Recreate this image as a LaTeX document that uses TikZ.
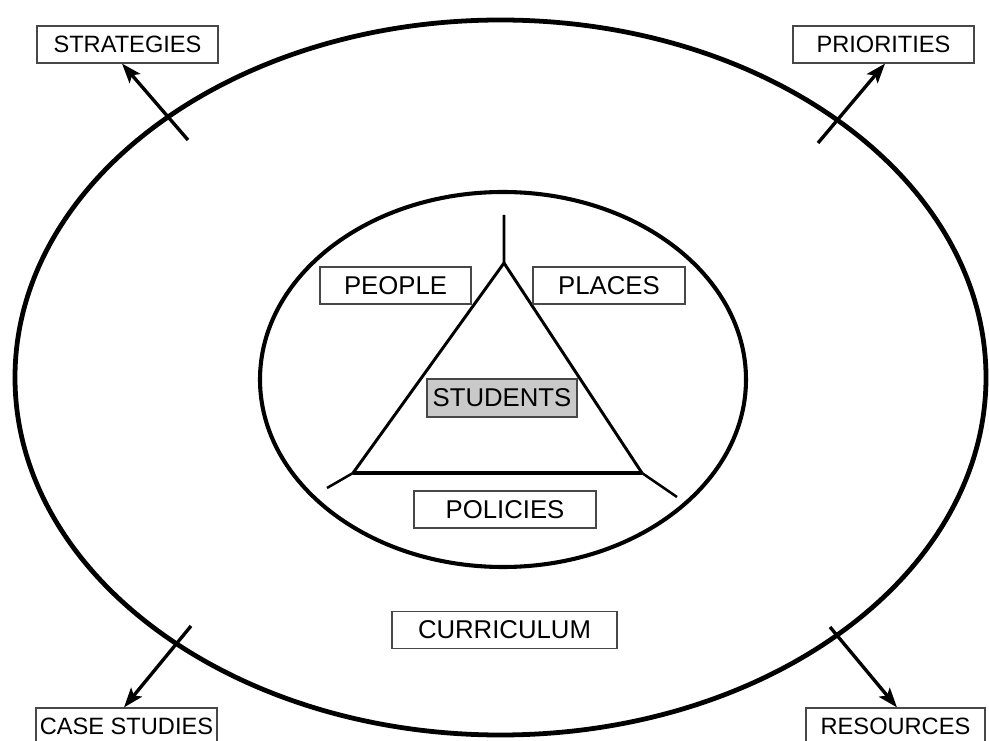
\documentclass[tikz,border=0pt]{standalone}
\usepackage{fontspec}
\setmainfont{Liberation Sans}
\usetikzlibrary{arrows.meta,calc}
\tikzset{
  label box/.style  = {draw=black!72, line width=0.8pt, inner sep=0pt,
                       minimum height=0.925cm, text=black},
  outer box/.style  = {label box, font=\fontsize{16.8}{20}\selectfont},
  inner box/.style  = {label box, font=\fontsize{18.3}{22}\selectfont},
  ring/.style       = {line width=3.4pt},
  tri/.style        = {line width=2.1pt, line join=miter},
  arrow/.style      = {-{Stealth[length=14pt,width=10pt,inset=3pt]}, line width=2.4pt},
}

\begin{document}
\begin{tikzpicture}[x=0.025cm, y=-0.025cm]
  \useasboundingbox (0,0) rectangle (989,741);
  \clip (0,0) rectangle (989,741);

  % the two rings
  \draw[ring] (500.5,377.5) ellipse [x radius=485.5, y radius=357.5];
  \draw[ring, line width=2.9pt] (503,379.5) ellipse [x radius=243, y radius=187.5];

  % triangle with its three spurs
  \coordinate (stem) at (504,215);
  \coordinate (apex) at (504,263);
  \coordinate (bl)   at (353,473);
  \coordinate (br)   at (642,473);
  \coordinate (blx)  at (327,488);
  \coordinate (brx)  at (677,497);
  \draw[tri] (stem) -- (apex) -- (bl);
  \draw[tri] (apex) -- (br);
  \draw[tri, line width=2.8pt] (bl) -- (br);
  \draw[tri, line width=1.8pt] (bl) -- (blx);
  \draw[tri, line width=1.8pt] (br) -- (brx);

  % labels
  \node[inner box, minimum width=3.775cm] (people)   at (395.5,285.5) {PEOPLE};
  \node[inner box, minimum width=3.8cm]   (places)   at (609,285.5)   {PLACES};
  \node[inner box, minimum width=3.75cm, minimum height=0.95cm, fill=black!21]
                                           (students) at (502,398)     {STUDENTS};
  \node[inner box, minimum width=4.55cm]  (policies) at (505,509.5)   {POLICIES};
  \node[inner box, minimum width=5.625cm] (curric)   at (504.5,630)   {CURRICULUM};

  \node[outer box, minimum width=4.525cm] (strat) at (127.5,44.5)  {STRATEGIES};
  \node[outer box, minimum width=4.525cm] (prior) at (883.5,44.5)  {PRIORITIES};
  \node[outer box, minimum width=4.525cm] (case)  at (126.5,726.5) {CASE STUDIES};
  \node[outer box, minimum width=4.475cm] (res)   at (895.5,726.5) {RESOURCES};

  % arrows crossing the outer ring
  \coordinate (t1) at (188,140);
  \coordinate (t2) at (818,143);
  \coordinate (t3) at (191,626);
  \coordinate (t4) at (830,627);
  \draw[arrow] (t1) -- ($(strat.south)+(-5.5,0)$);
  \draw[arrow] (t2) -- ($(prior.south)+(1.5,0)$);
  \draw[arrow] (t3) -- ($(case.north)+(-2.5,0)$);
  \draw[arrow] (t4) -- ($(res.north)+(1.5,0)$);
\end{tikzpicture}
\end{document}
